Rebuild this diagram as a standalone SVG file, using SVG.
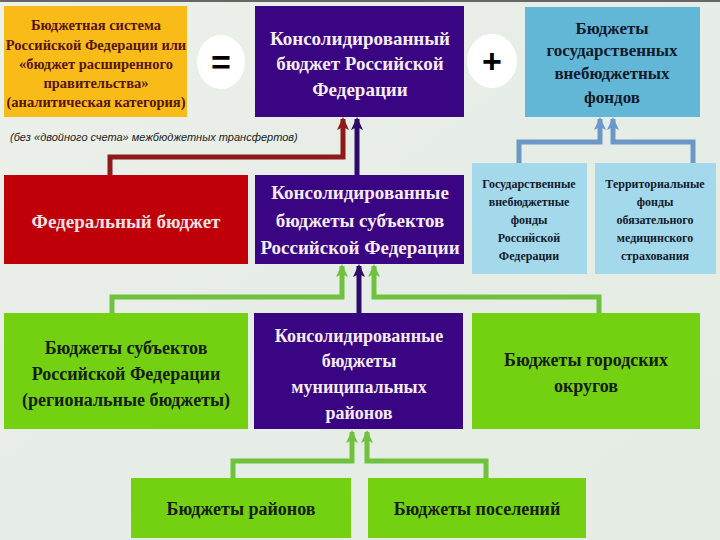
<svg xmlns="http://www.w3.org/2000/svg" width="720" height="540" viewBox="0 0 720 540">
<defs>
<style>
.t{font-family:'Liberation Serif','Times New Roman',serif;font-weight:bold;text-anchor:middle}
.w{fill:#f6ecf4}
.d{fill:#14200c}
.n{fill:#121a2c}
.c{fill:none;stroke-width:5;stroke-linejoin:miter}
</style>
<marker id="aR" markerUnits="userSpaceOnUse" markerWidth="14" markerHeight="14" refX="7" refY="2" orient="0" viewBox="0 0 14 14"><path d="M7 0 L13 13 L7 10 L1 13 Z" fill="#8e1a1a"/></marker>
<marker id="aP" markerUnits="userSpaceOnUse" markerWidth="14" markerHeight="14" refX="7" refY="2" orient="0" viewBox="0 0 14 14"><path d="M7 0 L13 13 L7 10 L1 13 Z" fill="#2e0a6a"/></marker>
<marker id="aB" markerUnits="userSpaceOnUse" markerWidth="14" markerHeight="14" refX="7" refY="2" orient="0" viewBox="0 0 14 14"><path d="M7 0 L13 13 L7 10 L1 13 Z" fill="#6c98c8"/></marker>
<marker id="aG" markerUnits="userSpaceOnUse" markerWidth="14" markerHeight="14" refX="7" refY="2" orient="0" viewBox="0 0 14 14"><path d="M7 0 L13 13 L7 10 L1 13 Z" fill="#6fc23c"/></marker>
<linearGradient id="bg" x1="0" y1="0" x2="1" y2="1">
<stop offset="0" stop-color="#ecf1ea"/>
<stop offset="0.5" stop-color="#e6ede6"/>
<stop offset="1" stop-color="#e4ece3"/>
</linearGradient>
</defs>
<rect width="720" height="540" fill="url(#bg)"/>
<rect width="720" height="2" fill="#666"/>

<g id="connectors">
<path class="c" stroke="#8e1a1a" d="M110 175 V157 H343 V119" marker-end="url(#aR)"/>
<path class="c" stroke="#2e0a6a" d="M357 175 V119" marker-end="url(#aP)"/>
<path class="c" stroke="#6c98c8" d="M519 163 V142 H600 V119" marker-end="url(#aB)"/>
<path class="c" stroke="#6c98c8" d="M693 163 V142 H613 V119" marker-end="url(#aB)"/>
<path class="c" stroke="#6fc23c" d="M112 313 V297 H342 V266" marker-end="url(#aG)"/>
<path class="c" stroke="#2e0a6a" d="M359 313 V266" marker-end="url(#aP)"/>
<path class="c" stroke="#6fc23c" d="M599 313 V297 H374 V266" marker-end="url(#aG)"/>
<path class="c" stroke="#6fc23c" d="M233 478 V461 H352 V432" marker-end="url(#aG)"/>
<path class="c" stroke="#6fc23c" d="M486 478 V461 H367 V432" marker-end="url(#aG)"/>
</g>

<g id="budget-system">
<rect x="4" y="6" width="183" height="111" fill="#f9bb17"/>
<text class="t" font-size="14.5" fill="#55140a"><tspan x="96" y="30">Бюджетная система</tspan><tspan x="96" y="50">Российской Федерации или</tspan><tspan x="96" y="69">«бюджет расширенного</tspan><tspan x="96" y="88">правительства»</tspan><tspan x="96" y="107">(аналитическая категория)</tspan></text>
</g>

<g id="eq-sign">
<ellipse cx="221" cy="62" rx="24" ry="27" fill="#fff"/>
<text x="221" y="74" font-family="Liberation Sans,Arial,sans-serif" font-weight="bold" font-size="34" text-anchor="middle" fill="#000">=</text>
</g>

<g id="consolidated-rf">
<rect x="255" y="6" width="209" height="111" fill="#3a0583"/>
<text class="t w" font-size="19"><tspan x="360" y="45">Консолидированный</tspan><tspan x="360" y="70">бюджет Российской</tspan><tspan x="360" y="96">Федерации</tspan></text>
</g>

<g id="plus-sign">
<ellipse cx="492" cy="61" rx="25" ry="27" fill="#fff"/>
<text x="492" y="73" font-family="Liberation Sans,Arial,sans-serif" font-weight="bold" font-size="34" text-anchor="middle" fill="#000">+</text>
</g>

<g id="extrabudget-funds">
<rect x="525" y="7" width="175" height="110" fill="#63b7d6"/>
<text class="t n" font-size="17"><tspan x="612" y="34">Бюджеты</tspan><tspan x="612" y="56">государственных</tspan><tspan x="612" y="79">внебюджетных</tspan><tspan x="612" y="103">фондов</tspan></text>
</g>

<g id="note">
<text x="10" y="141" font-family="Liberation Sans,Arial,sans-serif" font-style="italic" font-size="11" fill="#1a1a1a">(без «двойного счета» межбюджетных трансфертов)</text>
</g>

<g id="federal">
<rect x="4" y="175" width="244" height="89" fill="#c00008"/>
<text class="t" font-size="19" fill="#f6e2e2" x="126" y="228">Федеральный бюджет</text>
</g>

<g id="consolidated-subjects">
<rect x="255" y="175" width="209" height="89" fill="#3a0583"/>
<text class="t w" font-size="19"><tspan x="360" y="199">Консолидированные</tspan><tspan x="360" y="227">бюджеты субъектов</tspan><tspan x="360" y="254">Российской Федерации</tspan></text>
</g>

<g id="state-funds">
<rect x="472" y="163" width="115" height="111" fill="#a3d9ea"/>
<text class="t n" font-size="12"><tspan x="529" y="188">Государственные</tspan><tspan x="529" y="206">внебюджетные</tspan><tspan x="529" y="224">фонды</tspan><tspan x="529" y="242">Российской</tspan><tspan x="529" y="260">Федерации</tspan></text>
</g>

<g id="territorial-funds">
<rect x="595" y="163" width="121" height="111" fill="#a3d9ea"/>
<text class="t n" font-size="12"><tspan x="655" y="188">Территориальные</tspan><tspan x="655" y="206">фонды</tspan><tspan x="655" y="224">обязательного</tspan><tspan x="655" y="242">медицинского</tspan><tspan x="655" y="260">страхования</tspan></text>
</g>

<g id="regional">
<rect x="4" y="313" width="244" height="116" fill="#74d112"/>
<text class="t d" font-size="18"><tspan x="126" y="354">Бюджеты субъектов</tspan><tspan x="126" y="380">Российской Федерации</tspan><tspan x="126" y="406">(региональные бюджеты)</tspan></text>
</g>

<g id="consolidated-municipal">
<rect x="254" y="313" width="209" height="116" fill="#3a0583"/>
<text class="t w" font-size="18"><tspan x="359" y="342">Консолидированные</tspan><tspan x="359" y="367">бюджеты</tspan><tspan x="359" y="393">муниципальных</tspan><tspan x="359" y="419">районов</tspan></text>
</g>

<g id="city-districts">
<rect x="472" y="313" width="228" height="116" fill="#74d112"/>
<text class="t d" font-size="18"><tspan x="586" y="366">Бюджеты городских</tspan><tspan x="586" y="392">округов</tspan></text>
</g>

<g id="districts">
<rect x="131" y="478" width="220" height="60" fill="#74d112"/>
<text class="t d" font-size="18" x="241" y="515">Бюджеты районов</text>
</g>

<g id="settlements">
<rect x="368" y="478" width="218" height="60" fill="#74d112"/>
<text class="t d" font-size="18" x="477" y="515">Бюджеты поселений</text>
</g>
</svg>
